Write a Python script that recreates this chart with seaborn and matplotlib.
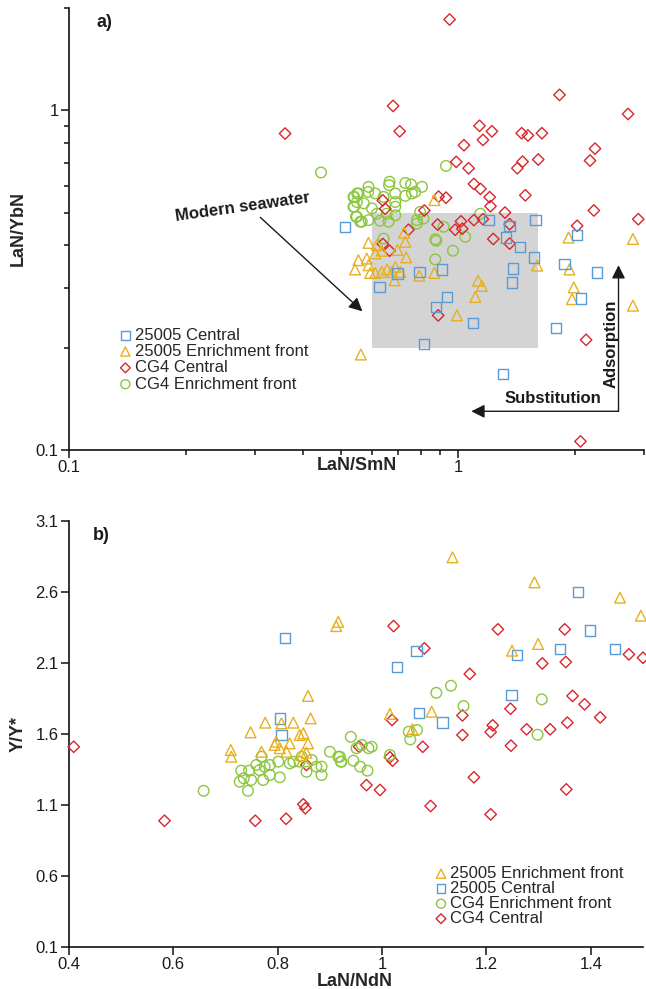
import numpy as np
import pandas as pd
import matplotlib
matplotlib.use("Agg")
import matplotlib.pyplot as plt
import seaborn as sns
from matplotlib.patches import Rectangle
from matplotlib.ticker import NullFormatter

# ---------------- data: panel a) (LaN/SmN vs LaN/YbN) ----------------
a_c25_x = [0.512, 1.197, 1.355, 1.578, 2.02, 1.326, 1.438, 1.568, 1.873, 1.383, 2.27, 1.374,
           0.795, 0.908, 0.698, 0.628, 2.066, 0.935, 0.878, 1.09, 1.785, 0.818, 1.303]
a_c25_y = [0.454, 0.475, 0.457, 0.475, 0.429, 0.422, 0.395, 0.369, 0.352, 0.342, 0.333, 0.311,
           0.334, 0.34, 0.331, 0.302, 0.279, 0.282, 0.263, 0.237, 0.229, 0.205, 0.167]

a_e25_x = [0.868, 0.726, 1.92, 2.81, 0.588, 0.731, 0.698, 0.735, 0.554, 0.582, 0.543, 0.588,
           0.594, 0.618, 0.636, 0.612, 0.612, 0.636, 0.656, 0.675, 0.689, 0.71, 0.686, 0.794,
           0.868, 1.124, 1.15, 1.106, 0.992, 1.594, 1.93, 1.98, 1.96, 2.81, 0.562]
a_e25_y = [0.544, 0.436, 0.422, 0.418, 0.407, 0.41, 0.388, 0.369, 0.362, 0.366, 0.34, 0.35,
           0.332, 0.401, 0.386, 0.379, 0.332, 0.334, 0.34, 0.334, 0.346, 0.334, 0.316, 0.326,
           0.332, 0.315, 0.304, 0.282, 0.249, 0.349, 0.34, 0.301, 0.278, 0.266, 0.191]

a_cg4c_x = [0.95, 1.82, 2.73, 0.68, 0.707, 1.134, 1.22, 1.157, 1.034, 1.455, 1.51, 1.64, 2.245,
            2.18, 0.988, 1.063, 1.463, 1.418, 1.605, 1.097, 1.14, 1.204, 1.21, 1.487, 1.318,
            0.89, 0.93, 0.64, 0.649, 0.818, 2.23, 2.9, 2.02, 0.885, 1.016, 1.097, 1.157, 1.355,
            0.745, 0.982, 1.024, 1.23, 0.64, 0.666, 1.355, 0.888, 2.13, 2.06, 0.359]
a_cg4c_y = [1.85, 1.11, 0.975, 1.03, 0.867, 0.90, 0.867, 0.818, 0.789, 0.856, 0.843, 0.856, 0.771,
            0.711, 0.705, 0.675, 0.706, 0.675, 0.716, 0.607, 0.587, 0.555, 0.522, 0.562, 0.5,
            0.557, 0.553, 0.543, 0.513, 0.507, 0.507, 0.478, 0.457, 0.461, 0.471, 0.475, 0.478,
            0.462, 0.445, 0.445, 0.448, 0.418, 0.404, 0.386, 0.405, 0.249, 0.211, 0.106, 0.854]

a_cg4e_x = [0.444, 0.54, 0.55, 0.54, 0.546, 0.56, 0.93, 0.588, 0.587, 0.666, 0.664, 0.731, 0.756,
            0.807, 0.775, 0.76, 0.731, 0.689, 0.643, 0.612, 0.554, 0.538, 0.549, 0.572, 0.60,
            0.538, 0.618, 0.655, 0.689, 0.689, 0.689, 0.549, 0.588, 0.565, 0.63, 0.662, 0.798,
            0.814, 0.783, 0.783, 0.917, 1.139, 1.042, 0.873, 0.643, 0.878, 0.969, 0.873]
a_cg4e_y = [0.656, 0.556, 0.569, 0.52, 0.486, 0.47, 0.686, 0.595, 0.575, 0.616, 0.602, 0.611,
            0.605, 0.595, 0.575, 0.569, 0.56, 0.569, 0.556, 0.569, 0.569, 0.556, 0.537, 0.532,
            0.514, 0.52, 0.496, 0.496, 0.491, 0.537, 0.52, 0.486, 0.475, 0.47, 0.473, 0.47,
            0.502, 0.48, 0.475, 0.464, 0.454, 0.496, 0.424, 0.417, 0.419, 0.413, 0.386, 0.364]

# ---------------- data: panel b) (LaN/NdN vs Y/Y*) ----------------
b_e25_x = [0.916, 0.912, 0.858, 1.135, 1.292, 1.456, 1.496, 1.299, 1.249, 1.015, 1.095, 1.058,
           0.776, 0.748, 0.83, 0.863, 0.807, 0.71, 0.711, 0.769, 0.797, 0.794, 0.804, 0.823,
           0.842, 0.849, 0.858, 0.817, 0.846, 0.855]
b_e25_y = [2.39, 2.36, 1.868, 2.844, 2.668, 2.56, 2.433, 2.234, 2.187, 1.741, 1.757, 1.633,
           1.68, 1.612, 1.68, 1.71, 1.675, 1.487, 1.44, 1.475, 1.546, 1.523, 1.5, 1.534,
           1.593, 1.605, 1.534, 1.475, 1.452, 1.468]

b_c25_x = [0.814, 1.376, 1.399, 1.066, 1.258, 1.341, 1.447, 1.029, 1.248, 1.071, 1.116, 0.804, 0.807]
b_c25_y = [2.274, 2.602, 2.328, 2.184, 2.154, 2.2, 2.2, 2.074, 1.875, 1.746, 1.68, 1.71, 1.593]

b_cg4e_x = [1.104, 1.132, 1.306, 1.156, 1.298, 1.051, 1.067, 1.054, 0.94, 0.961, 0.974, 0.98,
            1.015, 0.919, 0.922, 0.945, 0.958, 0.972, 0.658, 0.951, 0.73, 0.745, 0.759, 0.765,
            0.775, 0.785, 0.801, 0.823, 0.83, 0.846, 0.865, 0.874, 0.884, 0.884, 0.9, 0.916,
            0.921, 0.855, 0.727, 0.735, 0.749, 0.743, 0.772, 0.785, 0.804, 0.769, 0.842]
b_cg4e_y = [1.89, 1.94, 1.844, 1.797, 1.595, 1.616, 1.628, 1.562, 1.58, 1.523, 1.5, 1.51,
            1.452, 1.44, 1.405, 1.412, 1.37, 1.342, 1.2, 1.5, 1.342, 1.342, 1.382, 1.346,
            1.37, 1.382, 1.405, 1.393, 1.405, 1.44, 1.417, 1.37, 1.37, 1.311, 1.475, 1.44,
            1.405, 1.334, 1.264, 1.288, 1.276, 1.2, 1.276, 1.311, 1.295, 1.44, 1.405]

b_cg4c_x = [1.022, 1.222, 1.35, 1.081, 1.473, 1.5, 1.307, 1.352, 1.168, 1.365, 1.388, 1.418,
            1.019, 1.154, 1.246, 1.212, 1.208, 1.277, 1.322, 1.355, 1.154, 1.247, 0.956, 1.078,
            1.015, 1.02, 1.176, 0.97, 0.996, 1.353, 1.093, 1.208, 0.409, 0.583, 0.757, 0.816,
            0.849, 0.853, 0.855]
b_cg4c_y = [2.36, 2.337, 2.337, 2.203, 2.161, 2.137, 2.097, 2.107, 2.023, 1.868, 1.809, 1.717,
            1.699, 1.731, 1.778, 1.661, 1.614, 1.633, 1.633, 1.68, 1.593, 1.518, 1.51, 1.51,
            1.436, 1.412, 1.295, 1.24, 1.206, 1.21, 1.093, 1.034, 1.51, 0.989, 0.989, 1.003,
            1.105, 1.077, 1.382]

a_xticks = [0.1, 1]
a_xtick_labels = ["0.1", "1"]
a_yticks = [0.1, 1]
a_ytick_labels = ["0.1", "1"]
b_xticks = [0.4, 0.6, 0.8, 1.0, 1.2, 1.4]
b_xtick_labels = ["0.4", "0.6", "0.8", "1", "1.2", "1.4"]
b_yticks = [0.1, 0.6, 1.1, 1.6, 2.1, 2.6, 3.1]
b_ytick_labels = ["0.1", "0.6", "1.1", "1.6", "2.1", "2.6", "3.1"]

# ---------------- style ----------------
sns.set_theme(style="ticks")
plt.rcParams["font.family"] = ["Liberation Sans", "DejaVu Sans"]

C_BLUE = "#5b9bd5"
C_YEL = "#e8b020"
C_RED = "#d9262c"
C_GRN = "#8cc63f"

fig = plt.figure(figsize=(6.46, 9.89), dpi=100)
ax1 = fig.add_axes([69 / 646, 1 - 450 / 989, 575 / 646, 442 / 989])
ax2 = fig.add_axes([69 / 646, 1 - 947 / 989, 574 / 646, 426 / 989])


def draw(ax, x, y, marker, color, label, s):
    df = pd.DataFrame({"x": x, "y": y})
    sns.scatterplot(data=df, x="x", y="y", marker=marker, s=s, color=color,
                    facecolor="none", edgecolor=color, linewidth=1.0,
                    label=label, ax=ax, clip_on=False, zorder=3)


# ---------- panel a ----------
ax1.set_xscale("log")
ax1.set_yscale("log")
ax1.add_patch(Rectangle((0.6, 0.2), 1.0, 0.3, facecolor="#d4d4d4",
                        edgecolor="none", zorder=1))
draw(ax1, a_cg4e_x, a_cg4e_y, "o", C_GRN, "CG4 Enrichment front", 58)
draw(ax1, a_cg4c_x, a_cg4c_y, "D", C_RED, "CG4 Central", 34)
draw(ax1, a_e25_x, a_e25_y, "^", C_YEL, "25005 Enrichment front", 60)
draw(ax1, a_c25_x, a_c25_y, "s", C_BLUE, "25005 Central", 55)

ax1.set_xlim(0.1, 3.0)
ax1.set_ylim(0.1, 2.0)
ax1.set_xticks(a_xticks, a_xtick_labels)
ax1.set_xticks([0.2, 0.3, 0.4, 0.5, 0.6, 0.7, 0.8, 0.9, 2, 3], minor=True)
ax1.set_yticks(a_yticks, a_ytick_labels)
ax1.set_yticks([0.2, 0.3, 0.4, 0.5, 0.6, 0.7, 0.8, 0.9, 2], minor=True)
ax1.xaxis.set_minor_formatter(NullFormatter())
ax1.yaxis.set_minor_formatter(NullFormatter())

ax1.annotate("", xy=(0.567, 0.256), xytext=(0.31, 0.484),
             arrowprops=dict(arrowstyle="-|>", color="#1a1a1a", lw=1.0,
                             mutation_scale=20, shrinkA=0, shrinkB=0))
ax1.annotate("", xy=(2.58, 0.35), xytext=(2.58, 0.13),
             arrowprops=dict(arrowstyle="-|>", color="#1a1a1a", lw=1.0,
                             mutation_scale=20, shrinkA=0, shrinkB=0))
ax1.annotate("", xy=(1.08, 0.13), xytext=(2.58, 0.13),
             arrowprops=dict(arrowstyle="-|>", color="#1a1a1a", lw=1.0,
                             mutation_scale=20, shrinkA=0, shrinkB=0))
ax1.text(0.28, 0.519, "Modern seawater", rotation=8, ha="center", va="center",
         fontweight="bold", fontsize=12, color="#1a1a1a")
ax1.text(1.755, 0.142, "Substitution", ha="center", va="center",
         fontweight="bold", fontsize=12, color="#1a1a1a")
ax1.text(2.47, 0.206, "Adsorption", rotation=90, ha="center", va="center",
         fontweight="bold", fontsize=12, color="#1a1a1a")
ax1.text(0.061, 0.968, "a)", transform=ax1.transAxes, ha="center", va="center",
         fontweight="bold", fontsize=13, color="#1a1a1a")

h, l = ax1.get_legend_handles_labels()
order = ["25005 Central", "25005 Enrichment front", "CG4 Central", "CG4 Enrichment front"]
hd = dict(zip(l, h))
ax1.legend([hd[k] for k in order], order, loc="upper left", bbox_to_anchor=(0.085, 0.277),
           frameon=False, fontsize=12, handletextpad=0.1, labelspacing=0.08,
           borderpad=0, borderaxespad=0, handlelength=0.9, markerscale=0.85)

ax1.set_xlabel("LaN/SmN", fontweight="bold", fontsize=13)
ax1.set_ylabel("LaN/YbN", fontweight="bold", fontsize=13)
ax1.xaxis.set_label_coords(0.5, -0.034)
ax1.xaxis.label.set_va("center")
ax1.yaxis.set_label_coords(-0.089, 0.5)
ax1.yaxis.label.set_va("center")

# ---------- panel b ----------
draw(ax2, b_cg4c_x, b_cg4c_y, "D", C_RED, "CG4 Central", 34)
draw(ax2, b_cg4e_x, b_cg4e_y, "o", C_GRN, "CG4 Enrichment front", 58)
draw(ax2, b_c25_x, b_c25_y, "s", C_BLUE, "25005 Central", 55)
draw(ax2, b_e25_x, b_e25_y, "^", C_YEL, "25005 Enrichment front", 60)

ax2.set_xlim(0.4, 1.5)
ax2.set_ylim(0.1, 3.1)
ax2.set_xticks(b_xticks, b_xtick_labels)
ax2.set_yticks(b_yticks, b_ytick_labels)
ax2.text(0.057, 0.967, "b)", transform=ax2.transAxes, ha="center", va="center",
         fontweight="bold", fontsize=13, color="#1a1a1a")

h, l = ax2.get_legend_handles_labels()
order2 = ["25005 Enrichment front", "25005 Central", "CG4 Enrichment front", "CG4 Central"]
hd = dict(zip(l, h))
ax2.legend([hd[k] for k in order2], order2, loc="upper left", bbox_to_anchor=(0.635, 0.19),
           frameon=False, fontsize=12, handletextpad=0.1, labelspacing=0.0,
           borderpad=0, borderaxespad=0, handlelength=0.9, markerscale=0.85)

ax2.set_xlabel("LaN/NdN", fontweight="bold", fontsize=13)
ax2.set_ylabel("Y/Y*", fontweight="bold", fontsize=13)
ax2.xaxis.set_label_coords(0.498, -0.082)
ax2.xaxis.label.set_va("center")
ax2.yaxis.set_label_coords(-0.089, 0.5)
ax2.yaxis.label.set_va("center")

for ax in (ax1, ax2):
    sns.despine(ax=ax)
    for sp in ("left", "bottom"):
        ax.spines[sp].set_linewidth(1.2)
        ax.spines[sp].set_color("#111111")
    ax.tick_params(which="major", direction="out", length=5.5, width=1.1,
                   color="#111111", labelsize=12, labelcolor="#1a1a1a", pad=2)
    ax.tick_params(which="minor", direction="out", length=3.5, width=1.1,
                   color="#111111")
    ax.grid(False)

fig.savefig("out.png", dpi=100)
